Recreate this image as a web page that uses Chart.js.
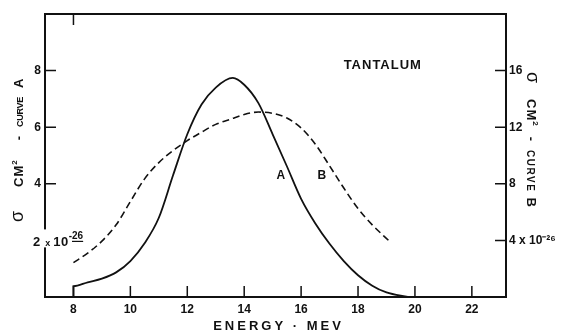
<!DOCTYPE html>
<html>
<head>
<meta charset="utf-8">
<script src="https://cdn.jsdelivr.net/npm/chart.js@4.4.1/dist/chart.umd.min.js"></script>
<style>
  html, body { margin: 0; padding: 0; background: #fff; }
  #wrap { width: 569px; height: 331px; }
</style>
</head>
<body>
<div id="wrap"><canvas id="chart" width="569" height="331"></canvas></div>
<script>
// Photoneutron cross section of tantalum, two curves on separate scales
const energyA = [8, 8, 8.5, 9, 9.5, 10, 10.5, 11, 11.5, 12, 12.5, 13, 13.6, 14, 14.5, 15, 15.5, 16, 16.5, 17, 17.5, 18, 18.5, 19, 19.75];
const sigmaA  = [0, 0.38, 0.52, 0.65, 0.87, 1.27, 1.9, 2.8, 4.3, 5.75, 6.8, 7.4, 7.74, 7.5, 6.85, 5.75, 4.62, 3.47, 2.6, 1.88, 1.27, 0.77, 0.4, 0.16, 0];

const energyB = [8, 8.5, 9, 9.5, 10, 10.5, 11, 11.5, 12, 12.5, 13, 13.5, 14, 14.5, 15, 15.5, 16, 16.5, 17, 17.5, 18, 18.5, 19.1];
const sigmaB  = [2.43, 3.1, 3.95, 5.1, 6.75, 8.35, 9.5, 10.35, 11.05, 11.65, 12.2, 12.55, 12.9, 13.07, 12.98, 12.65, 11.95, 10.8, 9.27, 7.7, 6.25, 5.1, 3.95];

const energyTicks = [8, 10, 12, 14, 16, 18, 20, 22];
const sigmaATicks = [4, 6, 8];
const sigmaBTicks = [4, 8, 12, 16];

const INK = '#111';
const FAMILY = '"Liberation Sans", Arial, sans-serif';
const TICK_LEN = 11;

function toPoints(xs, ys) {
  return xs.map((x, i) => ({ x: x, y: ys[i] }));
}

function fontOf(p) {
  return (p.bold ? 'bold ' : '') + p.size + 'px ' + FAMILY;
}

// draws a run of text pieces along the baseline, each piece with its own size/rise/gap
function drawRun(ctx, parts, x, y) {
  let cx = x;
  parts.forEach(p => {
    cx += p.gap || 0;
    ctx.font = fontOf(p);
    ctx.letterSpacing = (p.spacing || 0) + 'px';
    ctx.fillText(p.text, cx, y - (p.rise || 0));
    cx += ctx.measureText(p.text).width;
  });
  ctx.letterSpacing = '0px';
  return cx;
}

const framePlugin = {
  id: 'frame',
  afterDraw(chart) {
    const { ctx, chartArea: a, scales } = chart;
    const x = scales.x, yA = scales.yA, yB = scales.yB;
    ctx.save();
    ctx.strokeStyle = INK;
    ctx.fillStyle = INK;

    // box
    ctx.lineWidth = 2;
    ctx.strokeRect(a.left, a.top, a.right - a.left, a.bottom - a.top);

    // inward tick marks
    ctx.lineWidth = 1.5;
    ctx.beginPath();
    x.ticks.forEach(t => {
      const px = x.getPixelForValue(t.value);
      ctx.moveTo(px, a.bottom);
      ctx.lineTo(px, a.bottom - TICK_LEN);
    });
    const top8 = x.getPixelForValue(energyTicks[0]);
    ctx.moveTo(top8, a.top);
    ctx.lineTo(top8, a.top + TICK_LEN);
    yA.ticks.forEach(t => {
      const py = yA.getPixelForValue(t.value);
      ctx.moveTo(a.left, py);
      ctx.lineTo(a.left + TICK_LEN, py);
    });
    yB.ticks.forEach(t => {
      const py = yB.getPixelForValue(t.value);
      ctx.moveTo(a.right, py);
      ctx.lineTo(a.right - TICK_LEN, py);
    });
    ctx.stroke();

    // "2 x 10-26" sits across the left axis line
    const base2 = yA.getPixelForValue(2) + 6;
    ctx.fillStyle = '#fff';
    ctx.fillRect(a.left - 13, base2 - 17, 62, 18);
    ctx.fillStyle = INK;
    ctx.textAlign = 'left';
    ctx.textBaseline = 'alphabetic';
    const endTen = drawRun(ctx, [
      { text: '2', size: 13, bold: true },
      { text: 'x', size: 9, bold: true, gap: 5 },
      { text: '10', size: 13, bold: true, gap: 3, spacing: 0.5 },
      { text: '-', size: 10, bold: true, rise: 7, gap: 0 }
    ], a.left - 12, base2);
    const endExp = drawRun(ctx, [{ text: '26', size: 10, bold: true, rise: 7 }], endTen, base2);
    ctx.lineWidth = 1.2;
    ctx.beginPath();
    ctx.moveTo(endTen, base2 - 5);
    ctx.lineTo(endExp, base2 - 5);
    ctx.stroke();

    // curve letters and element name
    ctx.textAlign = 'center';
    ctx.font = 'bold 12px ' + FAMILY;
    ctx.fillText('A', x.getPixelForValue(15.29), yA.getPixelForValue(4.33) + 5);
    ctx.fillText('B', x.getPixelForValue(16.73), yA.getPixelForValue(4.33) + 5);
    ctx.font = 'bold 13px ' + FAMILY;
    ctx.letterSpacing = '1px';
    ctx.fillText('TANTALUM', x.getPixelForValue(18.87), yA.getPixelForValue(8.04));
    ctx.letterSpacing = '0px';

    // x axis title
    ctx.font = 'bold 13px ' + FAMILY;
    ctx.letterSpacing = '3px';
    ctx.fillText('ENERGY · MEV', (a.left + a.right) / 2 + 3, chart.height - 1);
    ctx.letterSpacing = '0px';

    // left axis title, reads bottom to top
    ctx.textAlign = 'left';
    ctx.save();
    ctx.translate(18, a.bottom - 75);
    ctx.rotate(-Math.PI / 2);
    drawRun(ctx, [
      { text: 'σ', size: 18 },
      { text: 'CM', size: 13, bold: true, gap: 24, spacing: 1 },
      { text: '2', size: 8, bold: true, rise: 6 },
      { text: '-', size: 13, bold: true, gap: 20 },
      { text: 'CURVE', size: 9, bold: true, gap: 9, spacing: -0.3 },
      { text: 'A', size: 13, bold: true, gap: 9 }
    ], 0, 5);
    ctx.restore();

    // right axis title, reads top to bottom
    ctx.save();
    ctx.translate(532, a.top + 58);
    ctx.rotate(Math.PI / 2);
    drawRun(ctx, [
      { text: 'σ', size: 18 },
      { text: 'CM', size: 13, bold: true, gap: 16, spacing: 1 },
      { text: '2', size: 8, bold: true, rise: 6 },
      { text: '-', size: 13, bold: true, gap: 11 },
      { text: 'CURVE', size: 10, bold: true, gap: 9, spacing: 1.5 },
      { text: 'B', size: 13, bold: true, gap: 5 }
    ], 0, 5);
    ctx.restore();

    ctx.restore();
  }
};

const tickFont = { family: FAMILY, size: 12, weight: 'bold' };

new Chart(document.getElementById('chart'), {
  type: 'line',
  data: {
    datasets: [
      {
        label: 'Curve A',
        data: toPoints(energyA, sigmaA),
        yAxisID: 'yA',
        borderColor: INK,
        borderWidth: 1.8,
        pointRadius: 0,
        cubicInterpolationMode: 'monotone',
        fill: false
      },
      {
        label: 'Curve B',
        data: toPoints(energyB, sigmaB),
        yAxisID: 'yB',
        borderColor: INK,
        borderWidth: 1.6,
        borderDash: [7, 4],
        pointRadius: 0,
        cubicInterpolationMode: 'monotone',
        fill: false
      }
    ]
  },
  options: {
    responsive: false,
    animation: false,
    devicePixelRatio: 1,
    layout: { padding: { top: 14, left: 0, right: 0, bottom: 0 } },
    plugins: {
      legend: { display: false },
      tooltip: { enabled: false }
    },
    scales: {
      x: {
        type: 'linear',
        min: 7,
        max: 23.2,
        afterBuildTicks: s => { s.ticks = energyTicks.map(v => ({ value: v })); },
        afterFit: s => { s.height = 34; },
        grid: { display: false, drawTicks: false },
        border: { display: false },
        ticks: { color: INK, font: tickFont, padding: 5, maxRotation: 0, autoSkip: false }
      },
      yA: {
        position: 'left',
        min: 0,
        max: 10,
        afterBuildTicks: s => { s.ticks = sigmaATicks.map(v => ({ value: v })); },
        afterFit: s => { s.width = 45; },
        grid: { display: false, drawTicks: false },
        border: { display: false },
        ticks: { color: INK, font: tickFont, padding: 4 }
      },
      yB: {
        position: 'right',
        min: 0,
        max: 20,
        afterBuildTicks: s => { s.ticks = sigmaBTicks.map(v => ({ value: v })); },
        afterFit: s => { s.width = 63; },
        grid: { display: false, drawTicks: false },
        border: { display: false },
        ticks: {
          color: INK,
          font: tickFont,
          padding: 3,
          callback: v => (v === 4 ? '4 x 10⁻²⁶' : String(v))
        }
      }
    }
  },
  plugins: [framePlugin]
});
</script>
</body>
</html>
